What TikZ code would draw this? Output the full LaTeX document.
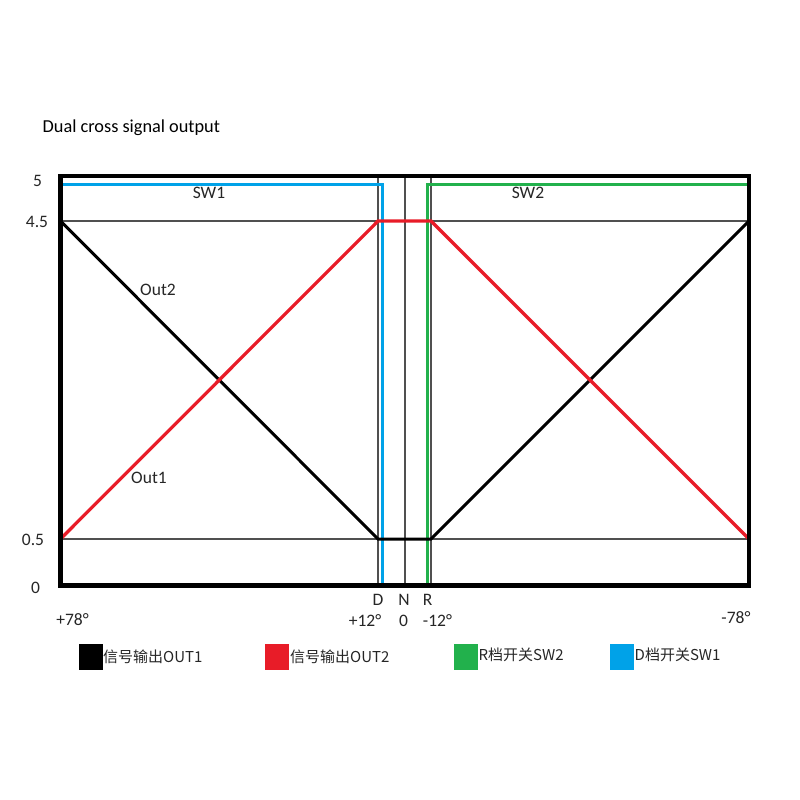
\documentclass[tikz,border=0pt]{standalone}
\usepackage{fontspec}
\setmainfont{Carlito}
\newfontfamily\cjk{Noto Sans CJK SC}
\definecolor{cred}{RGB}{232,28,40}
\definecolor{cgreen}{RGB}{34,177,76}
\definecolor{cblue}{RGB}{0,162,232}
\definecolor{cgrid}{RGB}{80,80,80}
\tikzset{
  lbl/.style={inner sep=0pt, font=\fontsize{17.5}{20}\selectfont, text=black!85},
  ttl/.style={inner sep=0pt, font=\fontsize{18.3}{21}\selectfont, anchor=west},
  gridline/.style={draw=cgrid, line width=1.1pt},
  sig/.style={line width=3.2pt, line join=miter},
  frame/.style={draw=black, line width=4.6pt},
  legbox/.style={minimum width=24pt, minimum height=26pt, inner sep=0pt, draw=none},
  legtext/.style={anchor=west, inner sep=0pt, font=\cjk\fontsize{15}{18}\selectfont, text=black!85}
}
\begin{document}
\begin{tikzpicture}[x=1pt,y=-1pt]
\useasboundingbox (0,0) rectangle (800,800);
% key coordinates
\coordinate (TL) at (60.5,176);
\coordinate (BR) at (749,585.5);
\coordinate (hA1) at (60.5,221);  \coordinate (hA2) at (749,221);
\coordinate (hB1) at (60.5,539);  \coordinate (hB2) at (749,539);
\coordinate (vD1) at (378,176);   \coordinate (vD2) at (378,585.5);
\coordinate (vN1) at (405,176);   \coordinate (vN2) at (405,585.5);
\coordinate (vR1) at (431,176);   \coordinate (vR2) at (431,585.5);
% grid lines
\draw[gridline] (hA1) -- (hA2);
\draw[gridline] (hB1) -- (hB2);
\draw[gridline] (vD1) -- (vD2);
\draw[gridline] (vN1) -- (vN2);
\draw[gridline] (vR1) -- (vR2);
% switch lines
\coordinate (b1) at (62,184.5); \coordinate (b2) at (382.5,184.5); \coordinate (b3) at (382.5,585.5);
\coordinate (g1) at (427.5,585.5); \coordinate (g2) at (427.5,184.5); \coordinate (g3) at (748,184.5);
\draw[sig, cblue] (b1) -- (b2) -- (b3);
\draw[sig, cgreen] (g1) -- (g2) -- (g3);
% outputs
\coordinate (r1) at (60.5,539); \coordinate (r2) at (378,221); \coordinate (r3) at (431,221); \coordinate (r4) at (749,539);
\coordinate (k1) at (60.5,221); \coordinate (k2) at (378,539); \coordinate (k3) at (431,539); \coordinate (k4) at (749,221);
\draw[sig, black, line width=3pt] (k1) -- (k2) -- (k3) -- (k4);
\draw[sig, cred] (r1) -- (r2) -- (r3) -- (r4);
% frame
\draw[frame] (TL) rectangle (BR);
% title
\node[ttl] (title) at (42.5,128) {Dual cross signal output};
% y labels
\node[lbl] (y5) at (37.5,180.5) {5};
\node[lbl] (y45) at (37,221.5) {4.5};
\node[lbl] (y05) at (33,540) {0.5};
\node[lbl] (y0) at (35.5,588) {0};
% x labels
\node[lbl] (x78) at (72.5,620) {+78°};
\node[lbl] (xD) at (378,600) {D};
\node[lbl] (xN) at (404,600) {N};
\node[lbl] (xR) at (427.5,600) {R};
\node[lbl] (x12) at (365,621) {+12°};
\node[lbl] (x0) at (403.5,621) {0};
\node[lbl] (xm12) at (437.5,621) {-12°};
\node[lbl] (xm78) at (736,618) {-78°};
% curve labels
\node[lbl] (sw1) at (209,193) {SW1};
\node[lbl] (sw2) at (528,193) {SW2};
\node[lbl] (out2) at (158,290) {Out2};
\node[lbl] (out1) at (149,478) {Out1};
% legend
\node[legbox, fill=black]  (lk) at (90.5,657) {};
\node[legbox, fill=cred]   (lr) at (277,657) {};
\node[legbox, fill=cgreen] (lg) at (466,657) {};
\node[legbox, fill=cblue]  (lb) at (622,657) {};
\node[legtext] (tk) at (103,657) {信号输出OUT1};
\node[legtext] (tr) at (290,657) {信号输出OUT2};
\node[legtext] (tg) at (478.5,655) {R档开关SW2};
\node[legtext] (tb) at (634.5,655) {D档开关SW1};
\end{tikzpicture}
\end{document}
